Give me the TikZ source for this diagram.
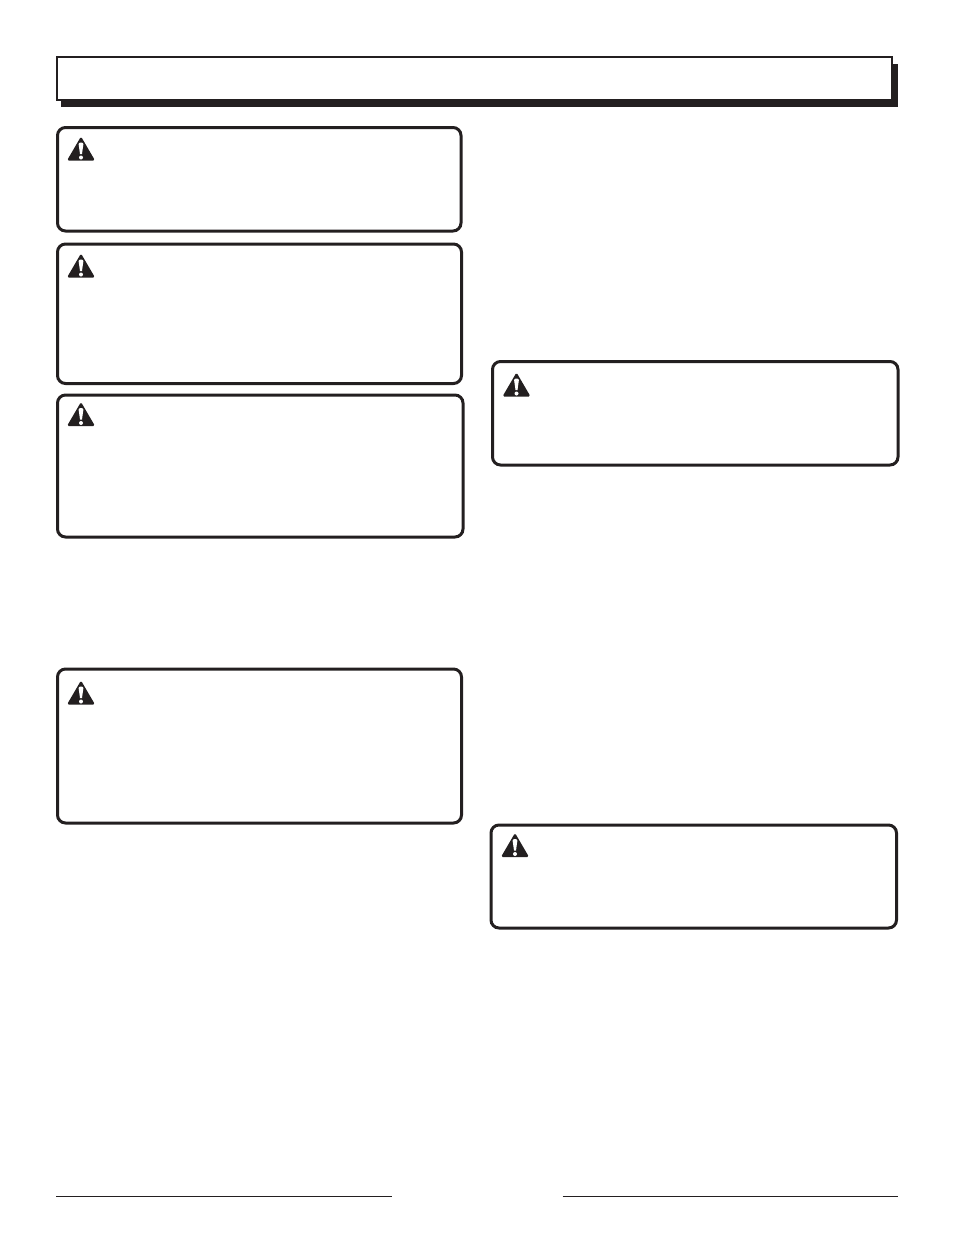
\documentclass[tikz,border=0pt]{standalone}
\definecolor{inkblack}{RGB}{35,31,32}
\tikzset{
  warnframe/.style={draw=inkblack,line width=2.25pt,rounded corners=6pt,fill=white},
  warnsign/.pic={
    \fill [inkblack,rounded corners=1.2pt] (0,24) -- (14,0) -- (-14,0) -- cycle ;
    \fill [white] (-2.4,16.5) .. controls (-2.4,18.5) and (2.4,18.5) .. (2.4,16.5) -- (1,6.5) -- (-1,6.5) -- cycle ;
    \fill [white] (0,3) circle (2) ;
  }
}
\begin{document}
\begin{tikzpicture}[x=0.75pt,y=0.75pt,yscale=-1,xscale=1]
    \useasboundingbox (0,0) rectangle (954,1235);

    % Title bar
    \fill [inkblack] (61,64) rectangle (898,107) ;
    \draw [draw=inkblack,line width=1.25pt,fill=white] (56.7,56.9) rectangle (892,100) ;

    % Warning boxes
    \draw [warnframe] (57.5,127.5) rectangle (461,231) ;
    \pic at (81,160.5) {warnsign};
    \draw [warnframe] (57.5,244) rectangle (461.5,383.5) ;
    \pic at (81,277.5) {warnsign};
    \draw [warnframe] (57.5,395) rectangle (463,537) ;
    \pic at (81,426) {warnsign};
    \draw [warnframe] (57.5,669) rectangle (461.5,823) ;
    \pic at (81,704.5) {warnsign};
    \draw [warnframe] (492.5,361.5) rectangle (898,465) ;
    \pic at (516.5,396.5) {warnsign};
    \draw [warnframe] (491,825) rectangle (896.5,928) ;
    \pic at (515,857) {warnsign};

    % Footer rules
    \draw [inkblack,line width=0.8pt] (56,1196.5) -- (392,1196.5) ;
    \draw [inkblack,line width=0.8pt] (562.5,1196.5) -- (898,1196.5) ;
\end{tikzpicture}
\end{document}
